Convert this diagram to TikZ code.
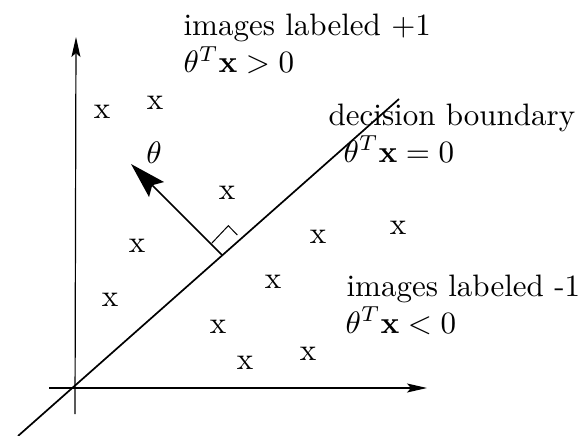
\documentclass[tikz,border=0pt]{standalone}
\usetikzlibrary{arrows.meta}
\begin{document}
\begin{tikzpicture}[x=1pt,y=-1pt,
  lab/.style={font=\normalsize, scale=3.1, transform shape, inner sep=0pt, anchor=base west},
  pt/.style={font=\normalsize, scale=3.1, transform shape, inner sep=0pt, anchor=center},
  axis/.style={line width=1.2pt, -{Stealth[length=20pt,width=9pt,inset=4pt]}},
  bound/.style={line width=1.7pt},
  normal/.style={line width=1.7pt, -{Stealth[length=36pt,width=21pt,inset=6pt]}},
  rightmark/.style={line width=1pt}]
\useasboundingbox (0,0) rectangle (579,436);
% axes
\coordinate (ybot) at (75,414);
\coordinate (ytop) at (76,37);
\coordinate (xleft) at (49,388);
\coordinate (xright) at (427,388);
\draw[axis] (ybot) -- (ytop);
\draw[axis] (xleft) -- (xright);
% decision boundary
\coordinate (lb) at (18,436);
\coordinate (lt) at (399,99);
\draw[bound] (lb) -- (lt);
% normal vector theta
\coordinate (base) at (222,255);
\coordinate (tip) at (131,164);
\draw[normal] (base) -- (tip);
% right-angle mark
\coordinate (m1) at (211.7,243.3);
\coordinate (m2) at (228.3,225.7);
\coordinate (m3) at (237.3,235);
\draw[rightmark] (m1) -- (m2) -- (m3);
\node[pt] (th) at (154,153) {$\theta$};
% points
\node[pt] (p1) at (102,112) {x};
\node[pt] (p2) at (155,103) {x};
\node[pt] (p3) at (227,193) {x};
\node[pt] (p4) at (137,246) {x};
\node[pt] (p5) at (318,237) {x};
\node[pt] (p6) at (398,228) {x};
\node[pt] (p7) at (273,282) {x};
\node[pt] (p8) at (110,300) {x};
\node[pt] (p9) at (218,327) {x};
\node[pt] (p10) at (245,363) {x};
\node[pt] (p11) at (308,354) {x};
% labels
\node[lab] (t1) at (183,36) {images labeled +1};
\node[lab] (t2) at (183,73) {$\theta^T\mathbf{x} > 0$};
\node[lab] (t3) at (328,125) {decision boundary};
\node[lab] (t4) at (343,162) {$\theta^T\mathbf{x} = 0$};
\node[lab] (t5) at (346,296) {images labeled -1};
\node[lab] (t6) at (345,333) {$\theta^T\mathbf{x} < 0$};
\end{tikzpicture}
\end{document}
